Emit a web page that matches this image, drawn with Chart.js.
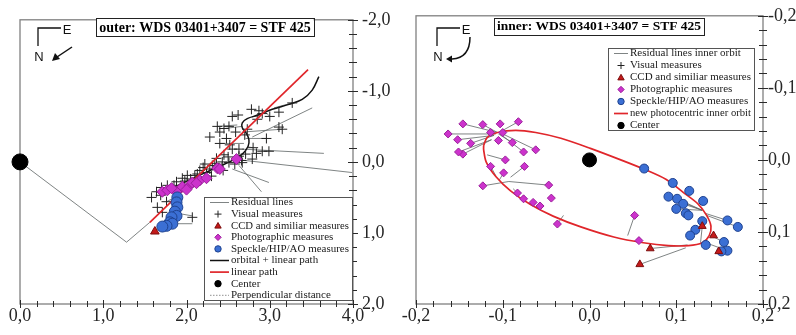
<!DOCTYPE html>
<html>
<head>
<meta charset="utf-8">
<script src="https://cdn.jsdelivr.net/npm/chart.js@4.4.0/dist/chart.umd.min.js"></script>
<style>
  html, body { margin: 0; padding: 0; width: 796px; height: 335px; overflow: hidden; background: #fff; }
  #outer { position: absolute; left: 0; top: 0; }
  #inner { position: absolute; left: 400px; top: 0; }
</style>
</head>
<body>
<canvas id="outer" width="400" height="335"></canvas>
<canvas id="inner" width="420" height="335"></canvas>
<script>
// ---- outer pair (AB-C), values in arcsec [x, y] ----
var outerCenter = [[0, 0]];
var outerVisual = [
  [2.55,-0.64],[2.37,-0.50],[2.51,-0.50],[2.78,-0.74],[2.91,-0.68],[3.27,-0.83],[3.15,-0.46],
  [2.96,-0.33],[2.91,-0.15],[2.99,-0.15],[2.84,-0.12],[2.36,-0.05],[2.40,-0.26],[2.55,-0.18],
  [2.51,0.01],[2.67,0.01],[2.79,-0.04],[2.31,0.05],[2.24,0.15],[2.87,-0.72],[3.11,-0.70],
  [2.40,-0.42],[3.11,-0.49],[2.28,-0.35],[2.48,-0.33],[2.63,-0.18],[2.10,0.19],[1.95,0.23],
  [1.77,0.33],[1.64,0.42],[1.76,0.56],[1.86,0.74],[2.07,0.78],[1.65,0.64],[1.71,0.71],
  [2.16,0.12],[2.01,0.19],[2.63,-0.08],[2.71,-0.11],[2.22,0.03],[2.73,-0.46],[2.59,-0.42],
  [2.45,-0.10],[2.20,0.08],[1.88,0.28],[1.70,0.36],[1.85,0.33],[1.98,0.27],[2.05,0.24],
  [2.13,0.17],[2.28,0.10],[2.34,0.02],[2.43,0.00],[2.50,-0.07],[2.58,0.03],[2.66,-0.02],
  [2.30,0.20],[2.44,0.12],[1.92,0.40],[2.52,-0.24],[2.80,-0.20],[2.70,-0.38],[2.45,-0.47],
  [2.85,-0.60],[3.00,-0.64],[2.62,-0.66],[1.58,0.50],[1.69,0.47]
];
var outerCCD = [[1.62, 0.98]];
var outerPhoto = [
  [1.71,0.42],[1.77,0.40],[1.88,0.42],[1.95,0.35],[2.04,0.33],[2.16,0.26],[2.24,0.23],
  [2.07,0.29],[2.37,0.09],[2.40,0.10],[2.60,-0.04],[1.82,0.37],[2.00,0.39],[2.12,0.30]
];
var outerSpeckle = [
  [1.89,0.50],[1.88,0.57],[1.89,0.64],[1.86,0.70],[1.88,0.76],[1.82,0.78],
  [1.80,0.85],[1.83,0.87],[1.76,0.90],[1.71,0.91]
];
var outerPath = [
  [1.70,0.48],[1.80,0.40],[1.95,0.30],[2.12,0.21],[2.30,0.11],[2.46,0.03],[2.58,-0.04],
  [2.68,-0.12],[2.74,-0.22],[2.75,-0.31],[2.72,-0.40],[2.67,-0.48],[2.67,-0.55],[2.73,-0.61],
  [2.86,-0.66],[3.03,-0.74],[3.23,-0.81],[3.39,-0.88],[3.51,-1.01],[3.59,-1.20]
];
var outerLinear = [[1.56,0.85],[3.46,-1.30]];
var outerPerp = [[0,0],[1.28,1.13],[1.56,0.85]];
var outerResiduals = [
  [2.55,-0.04,3.99,0.15],[2.67,-0.18,3.65,-0.12],[2.79,-0.35,3.51,-0.76],[2.55,0.10,2.99,0.29],
  [2.63,0.05,2.90,0.42],[1.83,0.71,2.07,0.76],[1.88,0.87,2.07,0.87],[2.91,-0.68,2.79,-0.63],
  [3.27,-0.83,3.05,-0.76],[3.15,-0.46,2.67,-0.42],[2.96,-0.33,2.71,-0.33],[2.37,-0.50,2.61,-0.52],
  [2.40,-0.26,2.69,-0.26],[1.76,0.56,1.86,0.50],[2.24,0.15,2.20,0.20],[2.13,0.17,2.10,0.22],
  [2.43,0.00,2.40,0.06],[2.80,-0.20,2.74,-0.21],[2.45,-0.47,2.67,-0.50],[3.00,-0.64,2.95,-0.70]
];

// ---- inner pair (photocentric orbit) ----
var innerCenter = [[0, 0]];
var innerOrbit = [
  [-0.122,-0.020],[-0.118,-0.031],[-0.106,-0.038],[-0.085,-0.041],[-0.062,-0.038],[-0.033,-0.030],
  [0.001,-0.016],[0.036,0.000],[0.065,0.014],[0.088,0.027],[0.108,0.045],[0.125,0.061],
  [0.135,0.077],[0.140,0.092],[0.138,0.105],[0.130,0.115],[0.114,0.119],[0.091,0.119],
  [0.062,0.115],[0.028,0.107],[-0.010,0.093],[-0.042,0.078],[-0.068,0.062],[-0.091,0.043],
  [-0.108,0.023],[-0.119,0.003],[-0.122,-0.014],[-0.122,-0.020]
];
var innerPhoto = [
  [-0.146,-0.050],[-0.123,-0.049],[-0.103,-0.050],[-0.082,-0.053],[-0.163,-0.036],[-0.114,-0.038],
  [-0.100,-0.038],[-0.152,-0.028],[-0.137,-0.023],[-0.105,-0.027],[-0.089,-0.024],[-0.146,-0.008],
  [-0.151,-0.011],[-0.076,-0.011],[-0.062,-0.014],[-0.097,0.000],[-0.114,0.009],[-0.075,0.009],
  [-0.099,0.018],[-0.123,0.036],[-0.047,0.035],[-0.083,0.046],[-0.076,0.054],[-0.065,0.059],
  [-0.057,0.064],[-0.044,0.053],[-0.037,0.089],[0.052,0.077],[0.057,0.112]
];
var innerSpeckle = [
  [0.063,0.012],[0.096,0.032],[0.115,0.043],[0.091,0.051],[0.101,0.054],[0.131,0.057],
  [0.108,0.061],[0.100,0.068],[0.111,0.074],[0.114,0.077],[0.159,0.084],[0.171,0.093],
  [0.130,0.085],[0.122,0.097],[0.116,0.105],[0.134,0.118],[0.155,0.114],[0.159,0.126],[0.152,0.127]
];
var innerCCD = [[0.070,0.123],[0.058,0.145],[0.143,0.105],[0.130,0.092],[0.149,0.127]];
var innerResiduals = [
  [-0.146,-0.050,-0.106,-0.038],[-0.123,-0.049,-0.106,-0.038],[-0.082,-0.053,-0.103,-0.039],
  [-0.163,-0.036,-0.108,-0.036],[-0.152,-0.028,-0.110,-0.034],[-0.137,-0.023,-0.110,-0.034],
  [-0.089,-0.024,-0.105,-0.036],[-0.146,-0.008,-0.113,-0.028],[-0.151,-0.011,-0.113,-0.028],
  [-0.076,-0.011,-0.103,-0.036],[-0.062,-0.014,-0.100,-0.036],[-0.097,0.000,-0.118,-0.007],
  [-0.075,0.009,-0.091,0.024],[-0.114,0.009,-0.108,0.022],[-0.099,0.018,-0.104,0.028],
  [-0.123,0.036,-0.093,0.030],[-0.047,0.035,-0.093,0.030],[-0.083,0.046,-0.088,0.040],
  [-0.037,0.089,-0.030,0.077],[0.052,0.077,0.044,0.105],[0.091,0.051,0.130,0.070],
  [0.101,0.054,0.130,0.070],[0.108,0.061,0.130,0.070],[0.100,0.068,0.130,0.070],
  [0.159,0.084,0.133,0.074],[0.171,0.093,0.135,0.077],[0.155,0.114,0.138,0.104],
  [0.159,0.126,0.134,0.115],[0.070,0.123,0.113,0.118],[0.058,0.145,0.111,0.122],
  [0.130,0.092,0.128,0.115]
];

// ---- texts ----
var outerTitle = 'outer: WDS 03401+3407 = STF 425';
var innerTitle = 'inner: WDS 03401+3407 = STF 425';
var outerLegendLabels = ['Residual lines', 'Visual measures', 'CCD and similiar measures',
  'Photographic measures', 'Speckle/HIP/AO measures', 'orbital + linear path', 'linear path',
  'Center', 'Perpendicular distance'];
var outerLegendSymbols = ['residual', 'visual', 'ccd', 'photo', 'speckle', 'orbit', 'linear', 'center', 'perp'];
var innerLegendLabels = ['Residual lines inner orbit', 'Visual measures', 'CCD and similiar measures',
  'Photographic measures', 'Speckle/HIP/AO measures', 'new photocentric inner orbit', 'Center'];
var innerLegendSymbols = ['residual', 'visual', 'ccd', 'photo', 'speckle', 'linear', 'center'];

var SERIF = '"Liberation Serif", "Times New Roman", serif';
var SANS = '"Liberation Sans", Arial, sans-serif';

// marker and line styles shared by datasets and the drawn legend
var MARK = {
  visual:  { style: 'cross',    fill: '#222',    edge: '#222' },
  ccd:     { style: 'triangle', fill: '#c41a1a', edge: '#7d0d0d' },
  photo:   { style: 'rectRot',  fill: '#cc33cc', edge: '#9b1f9b' },
  speckle: { style: 'circle',   fill: '#3b6fd4', edge: '#1f428f' },
  center:  { style: 'circle',   fill: '#000',    edge: '#000' }
};
var LINE = {
  residual: { color: '#5e6464', width: 0.8, dash: [] },
  orbit:    { color: '#111',    width: 1.5, dash: [] },
  linear:   { color: '#e0262b', width: 1.7, dash: [] },
  perp:     { color: '#858585', width: 0.9, dash: [1.5, 1.5] }
};

function pts(list) {
  return list.map(function(p) { return { x: p[0], y: p[1] }; });
}

// residual segments separated by gaps
function segs(list) {
  var out = [];
  list.forEach(function(s) {
    out.push({ x: s[0], y: s[1] }, { x: s[2], y: s[3] }, { x: null, y: null });
  });
  return out;
}

function commaLabel(step) {
  return function(v) {
    var r = Math.round(v / step);
    if (Math.abs(v / step - r) > 1e-6) return '';
    var n = r * step;
    if (Math.abs(n) < 1e-9) n = 0;
    return n.toFixed(1).replace('.', ',');
  };
}

function markSet(label, data, key, radius) {
  var m = MARK[key];
  return {
    label: label, data: pts(data), showLine: false,
    pointStyle: m.style, pointRadius: radius,
    backgroundColor: m.fill, borderColor: m.edge, borderWidth: 1
  };
}

function lineSet(label, data, key, tension) {
  var l = LINE[key];
  return {
    label: label, data: data, showLine: true, pointRadius: 0,
    borderColor: l.color, borderWidth: l.width, borderDash: l.dash,
    tension: tension || 0, spanGaps: false, fill: false
  };
}

// frame and ticks crossing the axis lines
function drawFrame(chart) {
  var ctx = chart.ctx, a = chart.chartArea, xs = chart.scales.x, ys = chart.scales.y;
  ctx.save();
  ctx.strokeStyle = '#808080';
  ctx.lineWidth = 1.3;
  ctx.strokeRect(a.left, a.top, a.right - a.left, a.bottom - a.top);
  ctx.strokeStyle = '#2a2a2a';
  ctx.lineWidth = 1;
  ctx.beginPath();
  xs.ticks.forEach(function(t) {
    var px = Math.round(xs.getPixelForValue(t.value)) + 0.5;
    var len = t.label ? 4 : 3;
    ctx.moveTo(px, a.bottom - len);
    ctx.lineTo(px, a.bottom + len);
  });
  ys.ticks.forEach(function(t) {
    var py = Math.round(ys.getPixelForValue(t.value)) + 0.5;
    var len = t.label ? 5 : 4;
    ctx.moveTo(a.right - len, py);
    ctx.lineTo(a.right + len, py);
  });
  ctx.stroke();
  ctx.restore();
}

function drawTitle(ctx, t) {
  ctx.save();
  ctx.font = 'bold ' + t.size + 'px ' + SERIF;
  var w = ctx.measureText(t.text).width;
  var bx = Math.round(t.cx - w / 2 - 3), by = Math.round(t.cy - t.h / 2);
  ctx.fillStyle = '#fff';
  ctx.fillRect(bx, by, w + 6, t.h);
  ctx.strokeStyle = '#222';
  ctx.lineWidth = 1;
  ctx.strokeRect(bx + 0.5, by + 0.5, Math.round(w + 6), t.h);
  ctx.fillStyle = '#000';
  ctx.textAlign = 'center';
  ctx.textBaseline = 'middle';
  ctx.fillText(t.text, t.cx, t.cy + 1);
  ctx.restore();
}

function drawCompass(ctx, c) {
  ctx.save();
  ctx.strokeStyle = '#111';
  ctx.fillStyle = '#111';
  ctx.lineWidth = 1.3;
  ctx.beginPath();
  ctx.moveTo(c.x, c.y + 18);
  ctx.lineTo(c.x, c.y);
  ctx.lineTo(c.x + 23, c.y);
  ctx.stroke();
  ctx.font = '13px ' + SANS;
  ctx.textAlign = 'center';
  ctx.textBaseline = 'middle';
  ctx.fillText('E', c.x + 29, c.y + 2);
  ctx.fillText('N', c.x + 1, c.y + 29);
  ctx.lineWidth = 1.5;
  ctx.beginPath();
  if (c.kind === 'arrow') {
    ctx.moveTo(c.x + 34, c.y + 19);
    ctx.lineTo(c.x + 19, c.y + 29);
    ctx.stroke();
    ctx.beginPath();
    ctx.moveTo(c.x + 14, c.y + 33);
    ctx.lineTo(c.x + 17, c.y + 25);
    ctx.lineTo(c.x + 22, c.y + 31);
    ctx.closePath();
    ctx.fill();
  } else {
    ctx.moveTo(c.x + 33, c.y + 9);
    ctx.quadraticCurveTo(c.x + 33, c.y + 30, c.x + 15, c.y + 31);
    ctx.stroke();
    ctx.beginPath();
    ctx.moveTo(c.x + 9, c.y + 31);
    ctx.lineTo(c.x + 15, c.y + 27.5);
    ctx.lineTo(c.x + 15, c.y + 34.5);
    ctx.closePath();
    ctx.fill();
  }
  ctx.restore();
}

function drawMark(ctx, key, x, y, r) {
  var m = MARK[key];
  ctx.fillStyle = m.fill;
  ctx.strokeStyle = m.edge;
  ctx.lineWidth = 1;
  ctx.beginPath();
  if (m.style === 'cross') {
    ctx.moveTo(x - r, y); ctx.lineTo(x + r, y);
    ctx.moveTo(x, y - r); ctx.lineTo(x, y + r);
    ctx.stroke();
    return;
  }
  if (m.style === 'triangle') {
    ctx.moveTo(x, y - r); ctx.lineTo(x + r, y + r * 0.75); ctx.lineTo(x - r, y + r * 0.75);
    ctx.closePath();
  } else if (m.style === 'rectRot') {
    ctx.moveTo(x, y - r); ctx.lineTo(x + r, y); ctx.lineTo(x, y + r); ctx.lineTo(x - r, y);
    ctx.closePath();
  } else {
    ctx.arc(x, y, r, 0, Math.PI * 2);
  }
  ctx.fill();
  ctx.stroke();
}

function drawLegend(ctx, L) {
  ctx.save();
  ctx.fillStyle = '#fff';
  ctx.fillRect(L.x, L.y, L.w, L.h);
  ctx.strokeStyle = '#555';
  ctx.lineWidth = 1;
  ctx.strokeRect(L.x + 0.5, L.y + 0.5, L.w, L.h);
  ctx.font = L.size + 'px ' + SERIF;
  ctx.textAlign = 'left';
  ctx.textBaseline = 'middle';
  L.labels.forEach(function(txt, i) {
    var y = L.row0 + i * L.rowH, sym = L.symbols[i];
    if (LINE[sym]) {
      var l = LINE[sym];
      ctx.strokeStyle = l.color;
      ctx.lineWidth = l.width;
      ctx.setLineDash(l.dash);
      ctx.beginPath();
      ctx.moveTo(L.x + 6, y);
      ctx.lineTo(L.textX - 2, y);
      ctx.stroke();
      ctx.setLineDash([]);
    } else {
      drawMark(ctx, sym, L.symX, y, sym === 'visual' ? 3.5 : 3.2);
    }
    ctx.fillStyle = '#1a1a1a';
    ctx.fillText(txt, L.textX, y, L.x + L.w - L.textX - 3);
  });
  ctx.restore();
}

function makeDecor(cfg) {
  return {
    id: 'panelDecor',
    beforeDatasetsDraw: function(chart) { drawFrame(chart); },
    afterDatasetsDraw: function(chart) {
      drawTitle(chart.ctx, cfg.title);
      drawCompass(chart.ctx, cfg.compass);
      drawLegend(chart.ctx, cfg.legend);
    }
  };
}

function axisOptions(min, max, step, labelStep, reverse, pos, pad, size) {
  return {
    type: 'linear', min: min, max: max, reverse: reverse, position: pos,
    grid: { display: false, drawTicks: false },
    border: { display: false },
    ticks: {
      stepSize: step, maxTicksLimit: 100, autoSkip: false, maxRotation: 0,
      padding: pad, color: '#262626', font: { family: SERIF, size: 18 },
      callback: commaLabel(labelStep)
    },
    afterFit: function(scale) {
      if (pos === 'bottom') scale.height = size; else scale.width = size;
    }
  };
}

function baseOptions(padLeft, xAxis, yAxis) {
  return {
    responsive: false, animation: false, events: [],
    layout: { padding: { left: padLeft, top: 12, right: 0, bottom: 0 } },
    plugins: { legend: { display: false }, tooltip: { enabled: false } },
    scales: { x: xAxis, y: yAxis }
  };
}

// outer panel
var outerCenterSet = markSet('Center', outerCenter, 'center', 8);
outerCenterSet.clip = false;
new Chart(document.getElementById('outer'), {
  type: 'scatter',
  data: {
    datasets: [
      outerCenterSet,
      markSet('CCD and similiar measures', outerCCD, 'ccd', 5),
      markSet('Speckle/HIP/AO measures', outerSpeckle, 'speckle', 5.5),
      markSet('Photographic measures', outerPhoto, 'photo', 5.5),
      lineSet('linear path', pts(outerLinear), 'linear'),
      markSet('Visual measures', outerVisual, 'visual', 5),
      lineSet('orbital + linear path', pts(outerPath), 'orbit', 0.35),
      lineSet('Residual lines', segs(outerResiduals), 'residual'),
      lineSet('Perpendicular distance', pts(outerPerp), 'residual')
    ]
  },
  options: baseOptions(20,
    axisOptions(0, 4, 0.2, 1, false, 'bottom', 1, 31),
    axisOptions(-2, 2, 0.2, 1, true, 'right', 9, 47)),
  plugins: [makeDecor({
    title: { text: outerTitle, cx: 205, cy: 27, h: 18, size: 14 },
    compass: { x: 38, y: 28, kind: 'arrow' },
    legend: { x: 204, y: 197, w: 148, h: 103, row0: 202.5, rowH: 11.6, symX: 218, textX: 231,
      size: 11, labels: outerLegendLabels, symbols: outerLegendSymbols }
  })]
});

// inner panel
var innerCenterSet = markSet('Center', innerCenter, 'center', 7);
innerCenterSet.clip = false;
new Chart(document.getElementById('inner'), {
  type: 'scatter',
  data: {
    datasets: [
      innerCenterSet,
      markSet('CCD and similiar measures', innerCCD, 'ccd', 4.5),
      markSet('Speckle/HIP/AO measures', innerSpeckle, 'speckle', 4.5),
      markSet('Photographic measures', innerPhoto, 'photo', 4),
      lineSet('new photocentric inner orbit', pts(innerOrbit), 'linear', 0.3),
      lineSet('Residual lines inner orbit', segs(innerResiduals), 'residual')
    ]
  },
  options: baseOptions(16,
    axisOptions(-0.2, 0.2, 0.02, 0.1, false, 'bottom', 1, 31),
    axisOptions(-0.2, 0.2, 0.02, 0.1, true, 'right', 5, 57)),
  plugins: [makeDecor({
    title: { text: innerTitle, cx: 199, cy: 26, h: 17, size: 13.5 },
    compass: { x: 37, y: 28, kind: 'curve' },
    legend: { x: 208, y: 48, w: 146, h: 82, row0: 53.5, rowH: 12, symX: 221, textX: 230,
      size: 11, labels: innerLegendLabels, symbols: innerLegendSymbols }
  })]
});
</script>
</body>
</html>
